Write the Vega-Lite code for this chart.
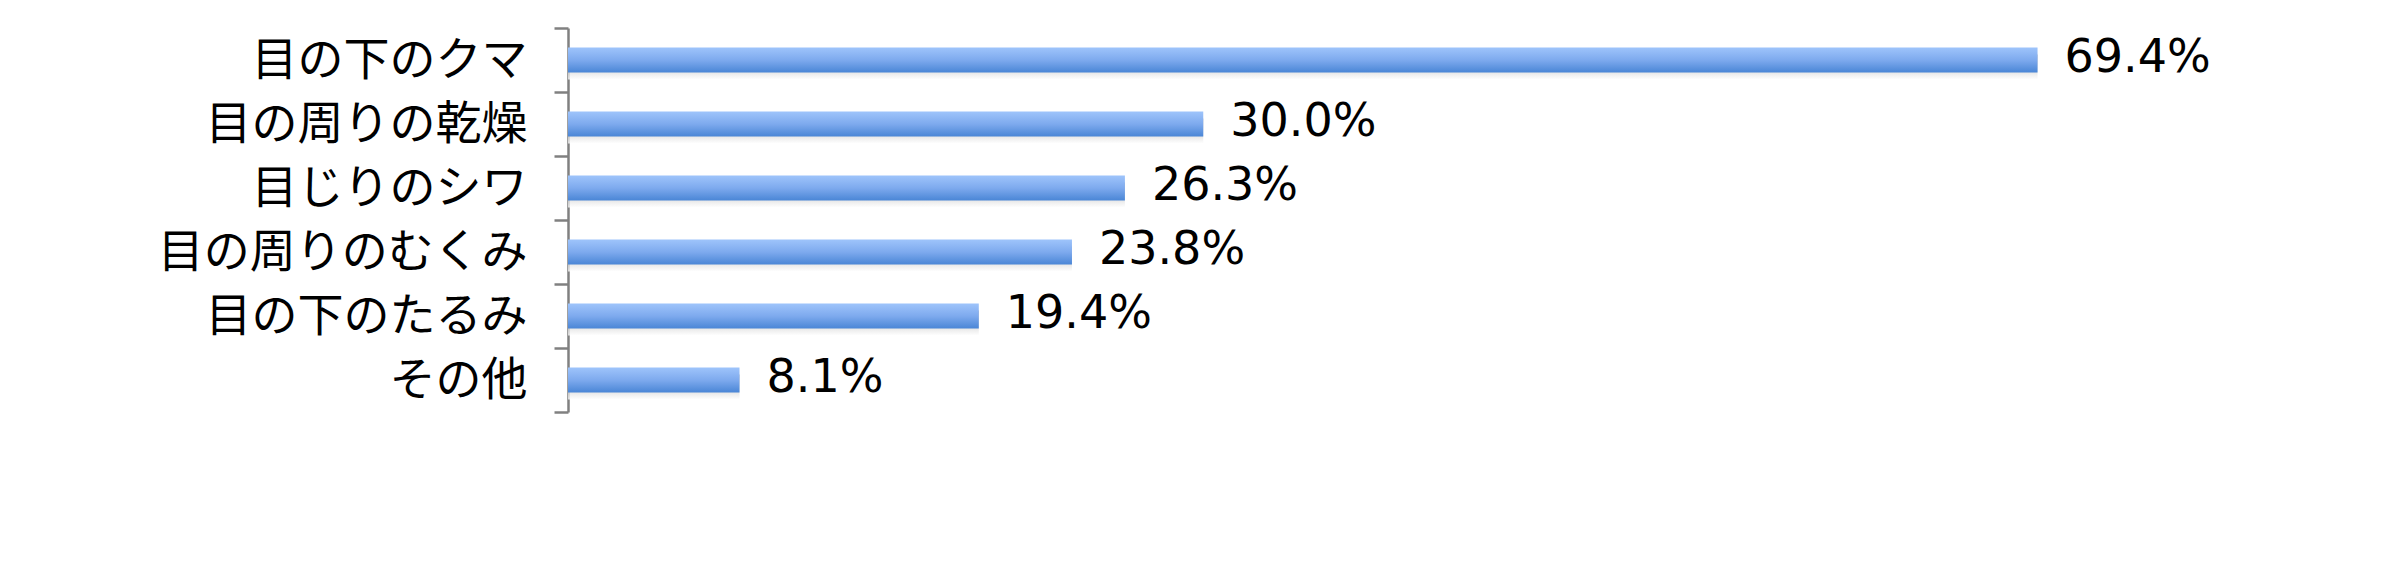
{
  "$schema": "https://vega.github.io/schema/vega-lite/v6.json",
  "width": 1694,
  "height": 384,
  "autosize": {"type": "none"},
  "padding": {"left": 568, "top": 28, "right": 125, "bottom": 156},
  "background": "white",
  "data": {
    "values": [
      {"item": "目の下のクマ", "pct": 69.4, "label": "69.4%"},
      {"item": "目の周りの乾燥", "pct": 30.0, "label": "30.0%"},
      {"item": "目じりのシワ", "pct": 26.3, "label": "26.3%"},
      {"item": "目の周りのむくみ", "pct": 23.8, "label": "23.8%"},
      {"item": "目の下のたるみ", "pct": 19.4, "label": "19.4%"},
      {"item": "その他", "pct": 8.1, "label": "8.1%"}
    ]
  },
  "encoding": {
    "y": {
      "field": "item",
      "type": "nominal",
      "sort": null,
      "scale": {"paddingInner": 0, "paddingOuter": 0},
      "axis": {
        "title": null,
        "domainColor": "#808080",
        "domainWidth": 2.5,
        "tickColor": "#808080",
        "tickWidth": 2.5,
        "tickSize": 14,
        "tickBand": "extent",
        "labelFont": "Noto Sans CJK JP",
        "labelFontSize": 46,
        "labelColor": "#000000",
        "labelPadding": 27,
        "labelLimit": 600
      }
    },
    "x": {
      "field": "pct",
      "type": "quantitative",
      "scale": {"domain": [0, 80]},
      "axis": null
    }
  },
  "layer": [
    {
      "mark": {
        "type": "bar",
        "height": {"band": 0.39},
        "yOffset": 7,
        "x2Offset": 4,
        "color": {
          "gradient": "linear",
          "x1": 0, "y1": 0, "x2": 0, "y2": 1,
          "stops": [
            {"offset": 0, "color": "#909090"},
            {"offset": 1, "color": "#ffffff"}
          ]
        },
        "opacity": 0.75
      }
    },
    {
      "mark": {
        "type": "bar",
        "height": {"band": 0.39},
        "color": {
          "gradient": "linear",
          "x1": 0, "y1": 0, "x2": 0, "y2": 1,
          "stops": [
            {"offset": 0, "color": "#9ec4fb"},
            {"offset": 0.5, "color": "#7eaaee"},
            {"offset": 1, "color": "#4a86d6"}
          ]
        }
      }
    },
    {
      "mark": {
        "type": "text",
        "align": "left",
        "baseline": "middle",
        "dx": 27,
        "dy": -2,
        "font": "DejaVu Sans",
        "fontSize": 46,
        "color": "#000000"
      },
      "encoding": {
        "text": {"field": "label", "type": "nominal"}
      }
    }
  ],
  "config": {"view": {"stroke": null}}
}
